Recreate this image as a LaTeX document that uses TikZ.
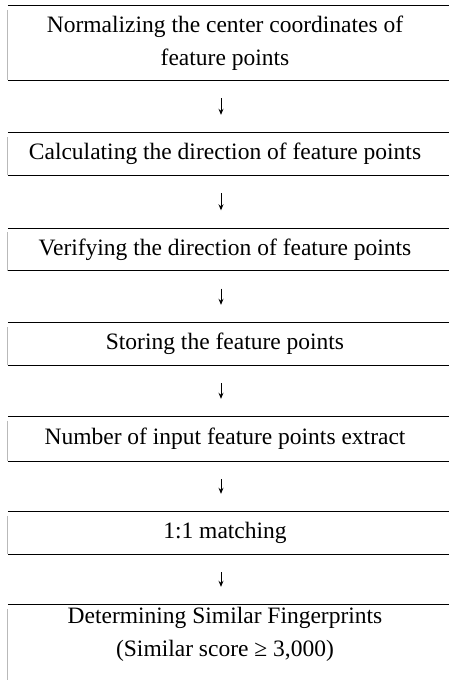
\documentclass[tikz,border=0pt]{standalone}
\usepackage{fontspec}
\setmainfont{Liberation Serif}
\usetikzlibrary{arrows.meta}

\begin{document}
\begin{tikzpicture}[x=1pt,y=1pt,
	stepbox/.style={minimum width=434pt,minimum height=42pt,inner sep=0pt,align=center,font=\fontsize{23.5}{33}\selectfont},
	edge/.style={gray!55,line width=1.3pt},
	flow/.style={-{Stealth[length=6pt,width=5pt]},line width=1pt,shorten <=18pt,shorten >=18pt}]
	\useasboundingbox (0,0) rectangle (449,-680);
	\node[stepbox,minimum height=74pt] (norm) at (225,-43) {Normalizing the center coordinates of\\ feature points};
	\node[stepbox] (calc) at (225,-154) {Calculating the direction of feature points};
	\node[stepbox] (veri) at (225,-249.5) {Verifying the direction of feature points};
	\node[stepbox] (stor) at (225,-344) {Storing the feature points};
	\node[stepbox,minimum height=44pt] (numb) at (225,-439) {Number of input feature points extract};
	\node[stepbox] (match) at (225,-533) {1:1 matching};
	\node[stepbox,minimum height=58pt] (simil) at (225,-634) {Determining Similar Fingerprints\\ (Similar score ≥ 3,000)};
	% box edges
	\foreach \n in {norm,calc,veri,stor,numb,match,simil} {
		\draw[line width=1pt] (\n.north west) -- ([xshift=7pt]\n.north east);
		\draw[edge] ([yshift=-4pt]\n.north west) -- (\n.south west);
	}
	\foreach \n in {norm,calc,veri,stor,numb,match}
		\draw[line width=1pt] (\n.south west) -- ([xshift=7pt]\n.south east);
	\draw[edge] (simil.south west) -- ++(0,-20);
	% arrows
	\draw[flow] ([xshift=-4pt]norm.south) -- ([xshift=-4pt]calc.north);
	\draw[flow] ([xshift=-4pt]calc.south) -- ([xshift=-4pt]veri.north);
	\draw[flow] ([xshift=-4pt]veri.south) -- ([xshift=-4pt]stor.north);
	\draw[flow] ([xshift=-4pt]stor.south) -- ([xshift=-4pt]numb.north);
	\draw[flow] ([xshift=-4pt]numb.south) -- ([xshift=-4pt]match.north);
	\draw[flow] ([xshift=-4pt]match.south) -- ([xshift=-4pt]simil.north);
\end{tikzpicture}
\end{document}
